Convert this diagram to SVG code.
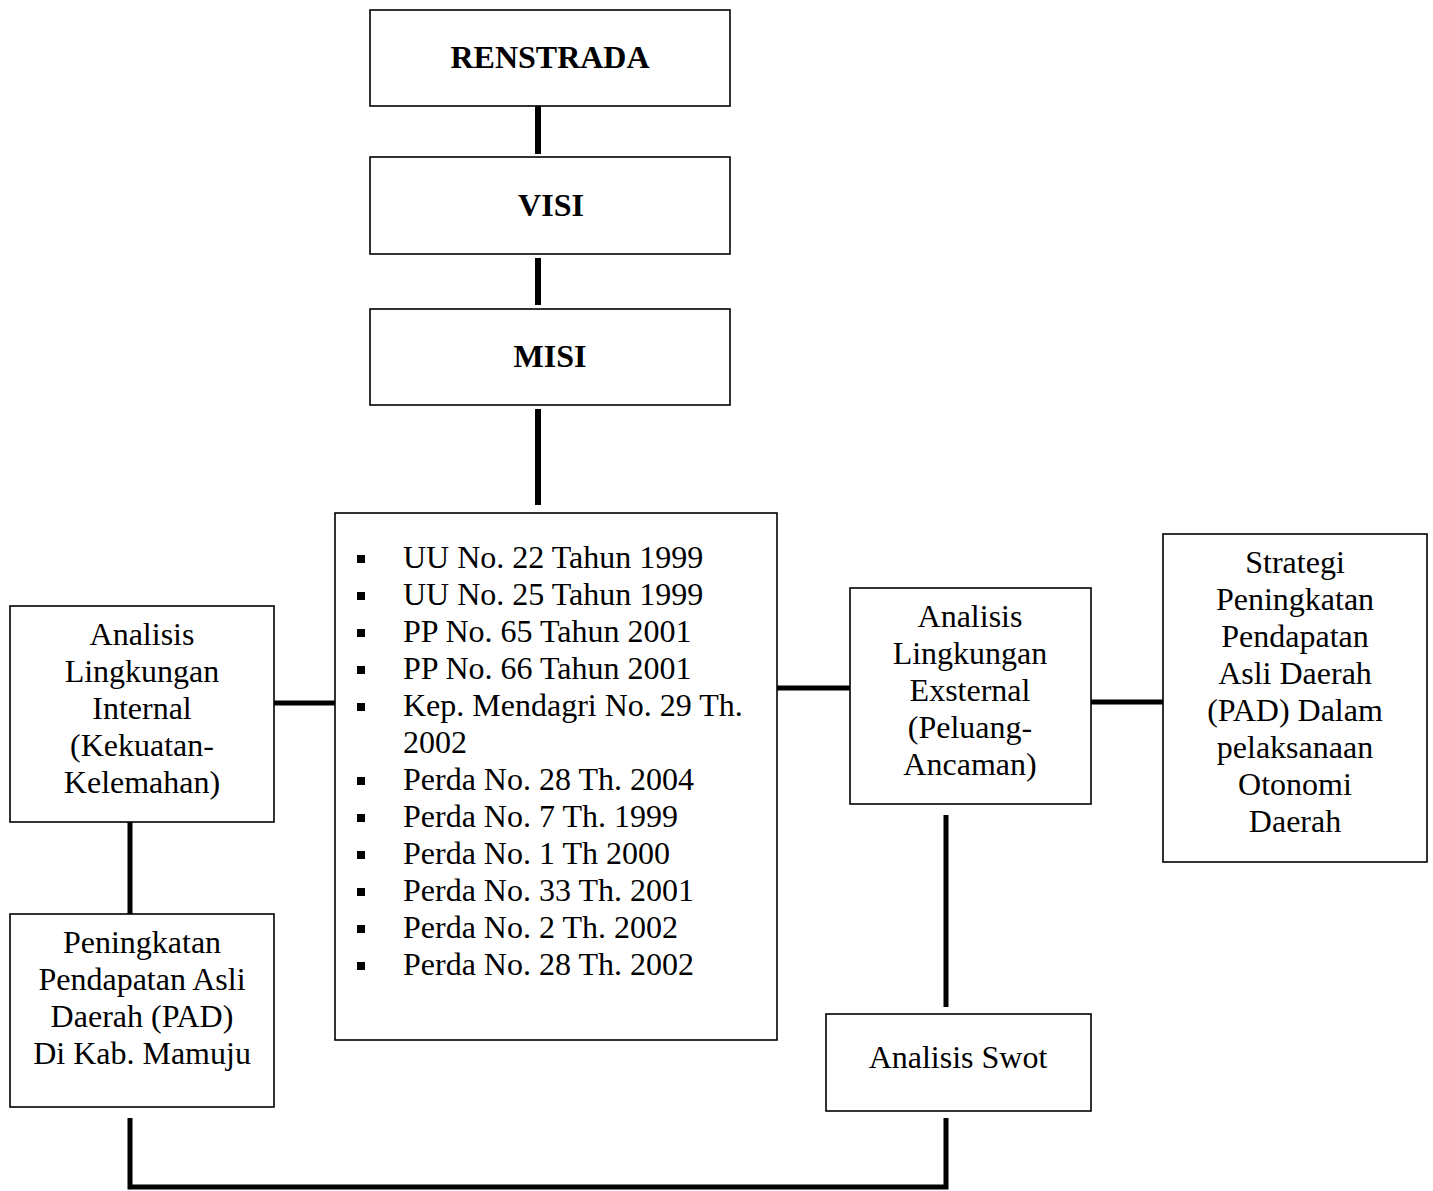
<svg xmlns="http://www.w3.org/2000/svg" width="1433" height="1191" viewBox="0 0 1433 1191">
<style>
.box{fill:#fff;stroke:#000;stroke-width:1.6}
.t{font-family:"Liberation Serif","Times New Roman",serif;font-size:32px;fill:#000}
.c{text-anchor:middle}
.b{font-weight:bold}
.ln{stroke:#000;stroke-width:5;fill:none}
.lt{stroke:#000;stroke-width:6;fill:none}
</style>
<rect width="1433" height="1191" fill="#fff"/>
<g id="connectors">
<line class="lt" x1="538" y1="106" x2="538" y2="154"/>
<line class="lt" x1="538" y1="258" x2="538" y2="305"/>
<line class="lt" x1="538" y1="409" x2="538" y2="505"/>
<line class="ln" x1="274" y1="703" x2="340" y2="703"/>
<line class="ln" x1="777" y1="688" x2="850" y2="688"/>
<line class="ln" x1="1091" y1="702" x2="1163" y2="702"/>
<line class="ln" x1="130" y1="822" x2="130" y2="914"/>
<line class="ln" x1="946" y1="815" x2="946" y2="1007"/>
<path class="ln" d="M130 1118 V1187 H946 V1118"/>
</g>
<g id="renstrada">
<rect class="box" x="370" y="10" width="360" height="96"/>
<text class="t c b" x="550" y="68">RENSTRADA</text>
</g>
<g id="visi">
<rect class="box" x="370" y="157" width="360" height="97"/>
<text class="t c b" x="551" y="216">VISI</text>
</g>
<g id="misi">
<rect class="box" x="370" y="309" width="360" height="96"/>
<text class="t c b" x="550" y="367">MISI</text>
</g>
<g id="dasar-hukum">
<rect class="box" x="335" y="513" width="442" height="527"/>
<g fill="#000">
<rect x="357" y="555" width="8" height="8"/>
<rect x="357" y="592" width="8" height="8"/>
<rect x="357" y="629" width="8" height="8"/>
<rect x="357" y="666" width="8" height="8"/>
<rect x="357" y="703" width="8" height="8"/>
<rect x="357" y="777" width="8" height="8"/>
<rect x="357" y="814" width="8" height="8"/>
<rect x="357" y="851" width="8" height="8"/>
<rect x="357" y="888" width="8" height="8"/>
<rect x="357" y="925" width="8" height="8"/>
<rect x="357" y="962" width="8" height="8"/>
</g>
<text class="t" x="403" y="568">UU No. 22 Tahun 1999</text>
<text class="t" x="403" y="605">UU No. 25 Tahun 1999</text>
<text class="t" x="403" y="642">PP No. 65 Tahun 2001</text>
<text class="t" x="403" y="679">PP No. 66 Tahun 2001</text>
<text class="t" x="403" y="716">Kep. Mendagri No. 29 Th.</text>
<text class="t" x="403" y="753">2002</text>
<text class="t" x="403" y="790">Perda No. 28 Th. 2004</text>
<text class="t" x="403" y="827">Perda No. 7 Th. 1999</text>
<text class="t" x="403" y="864">Perda No. 1 Th 2000</text>
<text class="t" x="403" y="901">Perda No. 33 Th. 2001</text>
<text class="t" x="403" y="938">Perda No. 2 Th. 2002</text>
<text class="t" x="403" y="975">Perda No. 28 Th. 2002</text>
</g>
<g id="internal">
<rect class="box" x="10" y="606" width="264" height="216"/>
<text class="t c" x="142" y="645">Analisis</text>
<text class="t c" x="142" y="682">Lingkungan</text>
<text class="t c" x="142" y="719">Internal</text>
<text class="t c" x="142" y="756">(Kekuatan-</text>
<text class="t c" x="142" y="793">Kelemahan)</text>
</g>
<g id="pad-mamuju">
<rect class="box" x="10" y="914" width="264" height="193"/>
<text class="t c" x="142" y="953">Peningkatan</text>
<text class="t c" x="142" y="990">Pendapatan Asli</text>
<text class="t c" x="142" y="1027">Daerah (PAD)</text>
<text class="t c" x="142" y="1064">Di Kab. Mamuju</text>
</g>
<g id="external">
<rect class="box" x="850" y="588" width="241" height="216"/>
<text class="t c" x="970" y="627">Analisis</text>
<text class="t c" x="970" y="664">Lingkungan</text>
<text class="t c" x="970" y="701">Exsternal</text>
<text class="t c" x="970" y="738">(Peluang-</text>
<text class="t c" x="970" y="775">Ancaman)</text>
</g>
<g id="strategi">
<rect class="box" x="1163" y="534" width="264" height="328"/>
<text class="t c" x="1295" y="573">Strategi</text>
<text class="t c" x="1295" y="610">Peningkatan</text>
<text class="t c" x="1295" y="647">Pendapatan</text>
<text class="t c" x="1295" y="684">Asli Daerah</text>
<text class="t c" x="1295" y="721">(PAD) Dalam</text>
<text class="t c" x="1295" y="758">pelaksanaan</text>
<text class="t c" x="1295" y="795">Otonomi</text>
<text class="t c" x="1295" y="832">Daerah</text>
</g>
<g id="swot">
<rect class="box" x="826" y="1014" width="265" height="97"/>
<text class="t c" x="958" y="1068">Analisis Swot</text>
</g>
</svg>
